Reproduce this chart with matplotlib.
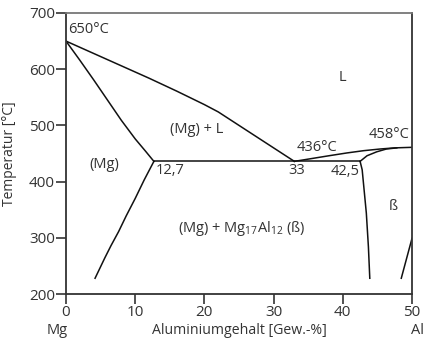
import matplotlib
matplotlib.use("Agg")
import matplotlib.pyplot as plt
import matplotlib.transforms as mtransforms

# ---------------------------------------------------------------------------
# Phase boundaries (x = wt.% Al, y = °C)
# ---------------------------------------------------------------------------

liquidus_left_x = [0, 6, 12, 16, 18, 20, 22, 25, 29, 33]
liquidus_left_t = [650, 617, 584, 561, 549, 537, 524, 500, 468, 436]

solidus_x = [0, 2, 4, 6, 8, 10, 11.5, 12.7]
solidus_t = [650, 616, 581, 545, 509, 476, 454, 436]

solvus_mg_x = [12.7, 11.3, 10.0, 8.7, 7.6, 6.5, 5.6, 4.2]
solvus_mg_t = [436, 403, 370, 339, 311, 286, 264, 228]

eutectic_x = [12.7, 42.5]
eutectic_t = [436, 436]

liquidus_right_x = [33, 36, 38, 40.6, 43, 45.4, 47.5, 50]
liquidus_right_t = [436, 442, 446, 451, 455, 458, 460, 461]

beta_upper_x = [42.5, 43.5, 44.9, 46.3, 47.8]
beta_upper_t = [436, 446, 453, 458, 460]

beta_left_x = [42.5, 42.8, 43.4, 43.7, 43.9]
beta_left_t = [436, 421, 344, 284, 228]

beta_right_x = [48.45, 50]
beta_right_t = [228, 299]

X_TICKS = [0, 10, 20, 30, 40, 50]
Y_TICKS = [200, 300, 400, 500, 600, 700]

# labels: (x, y, text, ha)
LABELS = [
    (0.3, 670, "650°C", "left"),
    (39.9, 586, "L", "center"),
    (18.9, 492, "(Mg) + L", "center"),
    (36.3, 461, "436°C", "center"),
    (46.7, 483, "458°C", "center"),
    (5.6, 431, "(Mg)", "center"),
    (12.9, 420, "12,7", "left"),
    (33.4, 419, "33", "center"),
    (40.4, 418, "42,5", "center"),
    (47.3, 355, "ß", "center"),
    (25.4, 316, "(Mg) + Mg$_{17}$Al$_{12}$ (ß)", "center"),
]

TEXT_COLOUR = "#333333"

plt.rcParams["font.family"] = ["Open Sans", "DejaVu Sans"]
plt.rcParams["mathtext.fontset"] = "custom"
plt.rcParams["mathtext.rm"] = "Open Sans"

fig = plt.figure(figsize=(4.24, 3.38), dpi=100)
ax = fig.add_axes([66 / 424, 1 - 294 / 338, 346 / 424, 281 / 338])

line_kw = dict(color="#111111", linewidth=1.1, solid_joinstyle="round")
for xs, ts in [
    (liquidus_left_x, liquidus_left_t),
    (solidus_x, solidus_t),
    (solvus_mg_x, solvus_mg_t),
    (eutectic_x, eutectic_t),
    (liquidus_right_x, liquidus_right_t),
    (beta_upper_x, beta_upper_t),
    (beta_left_x, beta_left_t),
    (beta_right_x, beta_right_t),
]:
    ax.plot(xs, ts, **line_kw)

for x, y, txt, ha in LABELS:
    ax.text(x, y, txt, ha=ha, va="center", fontsize=10.5, color=TEXT_COLOUR)

ax.set_xlim(0, 50)
ax.set_ylim(200, 700)
ax.set_xticks(X_TICKS)
ax.set_yticks(Y_TICKS)
ax.tick_params(direction="out", length=7, width=1.2, colors="#333333",
               labelsize=11, pad=1)

for side in ["left", "bottom", "right"]:
    ax.spines[side].set_color("#333333")
    ax.spines[side].set_linewidth(1.3)
ax.spines["top"].set_color("#777777")
ax.spines["top"].set_linewidth(1.3)

ax.set_ylabel("Temperatur [°C]", fontsize=10, color=TEXT_COLOUR)
ax.yaxis.set_label_coords(-0.142, 0.5)

trans = mtransforms.blended_transform_factory(ax.transData, ax.transAxes)
ax.text(25.1, -0.13, "Aluminiumgehalt [Gew.-%]", transform=trans,
        ha="center", va="center", fontsize=10.2, color=TEXT_COLOUR)
ax.text(-1.3, -0.13, "Mg", transform=trans,
        ha="center", va="center", fontsize=10.5, color=TEXT_COLOUR)
ax.text(49.9, -0.13, "Al", transform=trans,
        ha="left", va="center", fontsize=10.5, color=TEXT_COLOUR)

fig.savefig("out.png", dpi=100, facecolor="white")
